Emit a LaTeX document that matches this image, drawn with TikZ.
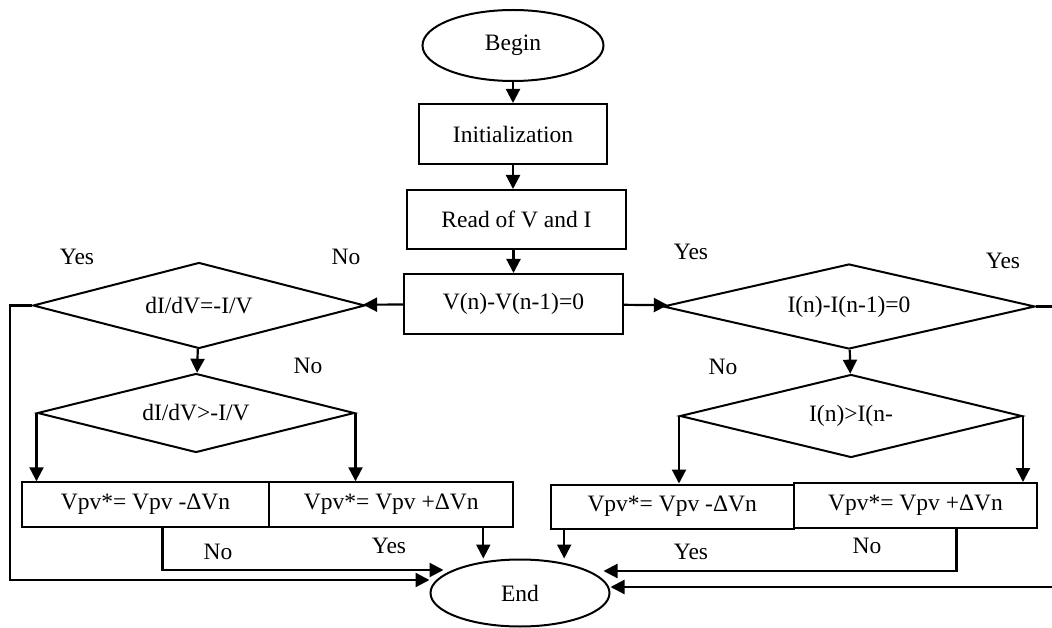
\documentclass[tikz,border=0pt]{standalone}
\usepackage{fontspec}
\setmainfont{Liberation Serif}
\usepackage{tikz}
\usetikzlibrary{arrows.meta, positioning, shapes.geometric, calc}

\begin{document}
\begin{tikzpicture}[
      x=1pt, y=-1pt,
      every node/.style={font=\fontsize{23.5}{28}\selectfont},
      terminal/.style={draw, ellipse, line width=2pt, inner sep=0pt, minimum width=#1},
      process/.style={draw, rectangle, line width=2pt, inner sep=0pt, align=center},
      decision/.style={draw, diamond, aspect=#1, line width=2pt, inner sep=0pt},
      lab/.style={inner sep=0pt},
      arrow/.style={-{Triangle[length=14pt, width=14pt]}, line width=2.2pt}
  ]
    \useasboundingbox[fill=white] (0,0) rectangle (1052,628);

    \node[terminal=181pt, minimum height=71pt] (begin) at (513,45.5) {Begin};
    \node[process, minimum width=188pt, minimum height=60pt] (init) at (513,134) {Initialization};
    \node[process, minimum width=219pt, minimum height=59pt] (readvi) at (516.5,219.5) {Read of V and I};
    \node[process, minimum width=219pt, minimum height=60pt] (vcmp) at (513.5,304) {V(n)-V(n-1)=0};

    \node[decision=3.86, minimum width=332pt, minimum height=86pt] (dvcmp) at (199,305.5) {dI/dV=-I/V};
    \node[decision=4.0, minimum width=317pt, minimum height=79pt] (dvgt) at (196,413) {dI/dV>-I/V};
    \node[decision=4.38, minimum width=372pt, minimum height=85pt] (icmp) at (849,306.5) {I(n)-I(n-1)=0};
    \node[decision=4.12, minimum width=342pt, minimum height=83pt] (igt) at (851,416) {I(n)>I(n-};

    \node[process, minimum width=247.6pt, minimum height=44.4pt] (vm1) at (145.5,504.5) {Vpv*= Vpv -ΔVn};
    \node[process, minimum width=244pt, minimum height=44.4pt] (vp1) at (391.3,504.5) {Vpv*= Vpv +ΔVn};
    \node[process, minimum width=243.4pt, minimum height=44pt] (vm2) at (672.2,506.5) {Vpv*= Vpv -ΔVn};
    \node[process, minimum width=243pt, minimum height=44.8pt] (vp2) at (915.5,505.4) {Vpv*= Vpv +ΔVn};

    \node[terminal=179pt, minimum height=67pt] (endn) at (520,593) {End};

    \draw[arrow] (begin) -- (init);
    \draw[arrow] (init) -- (init |- readvi.north);
    \draw[arrow] (readvi.south -| vcmp) -- (vcmp);
    \draw[arrow] (vcmp) -- (dvcmp);
    \draw[arrow] (vcmp) -- (icmp);
    \draw[arrow] (dvcmp) -- (dvgt);
    \draw[arrow] (icmp) -- (igt);

    \draw[arrow] (dvgt.west) -- (dvgt.west |- vm1.north);
    \draw[arrow] (dvgt.east) -- (dvgt.east |- vp1.north);
    \draw[arrow] (igt.west) -- (igt.west |- vm2.north);
    \draw[arrow] (igt.east) -- (igt.east |- vp2.north);

    \draw[arrow] ([xshift=17pt]vm1.south) |- ([xshift=14pt, yshift=23pt]endn.west);
    \draw[arrow] ([xshift=92pt]vp1.south) -- ([xshift=92pt]vp1.south |- endn.north);
    \draw[arrow] ([xshift=-108pt]vm2.south) -- ([xshift=-108pt]vm2.south |- endn.north);
    \draw[arrow] ([xshift=41pt]vp2.south) |- ([xshift=-7pt, yshift=22pt]endn.east);
    \draw[arrow] (dvcmp.west) -- ++(-22,0) |- ([yshift=13pt]endn.west);
    \draw[arrow] (icmp.east) -- ++(30,0) |- ([yshift=6pt]endn.east);

    \node[lab] (yesdv) at (77,257) {Yes};
    \node[lab] (nodv) at (346,257) {No};
    \node[lab] (nodvgt) at (308,366) {No};
    \node[lab] (novm1) at (218,552) {No};
    \node[lab] (yesvp1) at (389,546) {Yes};
    \node[lab] (yesi) at (691,252) {Yes};
    \node[lab] (yesir) at (1003,261) {Yes};
    \node[lab] (noigt) at (723,367) {No};
    \node[lab] (yesvm2) at (691,552) {Yes};
    \node[lab] (novp2) at (867,546) {No};
  \end{tikzpicture}
\end{document}
